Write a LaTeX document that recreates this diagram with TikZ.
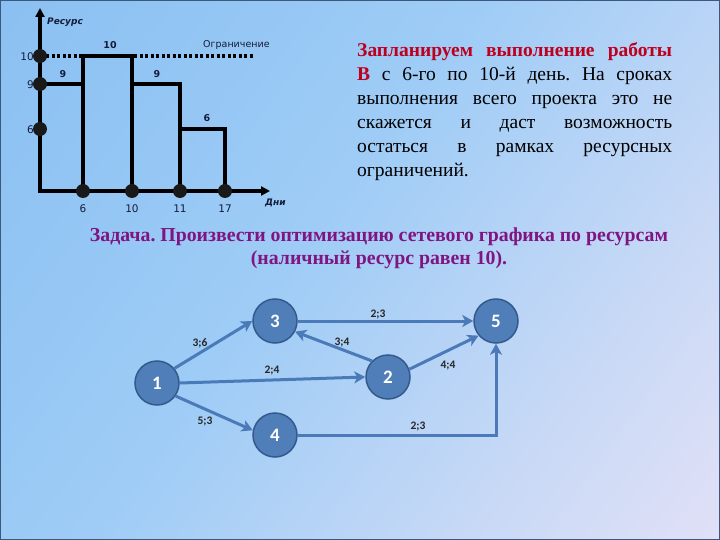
\documentclass[tikz,border=0pt]{standalone}
\usepackage{fontspec}
\setmainfont{Liberation Serif}
\newfontfamily\chartfont{DejaVu Sans}
\newfontfamily\netfont{Carlito}
\usetikzlibrary{arrows.meta}
\frenchspacing
\definecolor{bgA}{RGB}{128,186,240}
\definecolor{bgB}{RGB}{158,204,246}
\definecolor{bgC}{RGB}{210,220,246}
\definecolor{bgD}{RGB}{247,230,248}
\definecolor{navy}{RGB}{20,28,60}
\definecolor{titlered}{RGB}{190,0,30}
\definecolor{taskpurple}{RGB}{128,20,130}
\definecolor{netfill}{RGB}{79,126,185}
\definecolor{netdraw}{RGB}{52,90,140}
\definecolor{netedge}{RGB}{74,122,184}
\pgfdeclarehorizontalshading{bgshade}{100bp}{color(0bp)=(bgA); color(45bp)=(bgB); color(75bp)=(bgC); color(100bp)=(bgD)}
\newcommand{\jline}[1]{\makebox[315pt][s]{#1}}
\tikzset{
  axisline/.style={line width=3.5pt, draw=black},
  barline/.style={line width=4pt, draw=black},
  dot/.style={circle, fill=black!90, inner sep=0pt, minimum size=14pt},
  ticklbl/.style={font=\chartfont\fontsize{10.5}{12}\selectfont, text=navy, inner sep=1pt},
  barlbl/.style={font=\chartfont\bfseries\fontsize{9.5}{11}\selectfont, text=navy, inner sep=1pt},
  axislbl/.style={font=\chartfont\itshape\bfseries\fontsize{9}{11}\selectfont, text=navy, inner sep=1pt},
  netnode/.style={circle, fill=netfill, draw=netdraw, line width=1.5pt, minimum size=44pt, inner sep=0pt,
    font=\netfont\bfseries\fontsize{19}{20}\selectfont, text=white},
  netedge/.style={draw=netedge, line width=3pt, -{Stealth[length=11pt,width=12pt,inset=3pt]}},
  edgelbl/.style={font=\netfont\bfseries\fontsize{11.5}{12}\selectfont, text=black!85, inner sep=1pt},
}
\begin{document}
\begin{tikzpicture}[x=1pt,y=-1pt]
\useasboundingbox (0,0) rectangle (720,540);
\shade[shading=bgshade, shading angle=-36] (0,0) rectangle (720,540);
\draw[line width=1.2pt, draw={rgb,255:red,60;green,88;blue,125}] (0.6,0.6) rectangle (719.4,539.4);

% ---- resource chart ----
\draw[line width=3.5pt, dash pattern=on 3pt off 2.5pt, draw=black] (46,56) -- (253,56);
\draw[barline] (40,84) -- (83,84);
\draw[barline] (83,191) -- (83,56) -- (132,56) -- (132,191);
\draw[barline] (132,84) -- (180,84) -- (180,191);
\draw[barline] (180,129) -- (225,129) -- (225,191);
\draw[axisline, -{Triangle[length=9pt,width=9pt]}] (40,191) -- (40,8);
\draw[axisline, -{Triangle[length=9pt,width=9pt]}] (38,191) -- (270,191);

\node[dot] (y10) at (40,56) {};
\node[dot] (y9) at (40,84) {};
\node[dot] (y6) at (40,129) {};
\node[dot] (x6) at (83,191) {};
\node[dot] (x10) at (132,191) {};
\node[dot] (x11) at (180,191) {};
\node[dot] (x17) at (225,191) {};

\node[ticklbl, anchor=east] (l10) at (35,57) {10};
\node[ticklbl, anchor=east] (l9) at (35,85) {9};
\node[ticklbl, anchor=east] (l6) at (35,130) {6};
\node[ticklbl] (b6) at (83,209) {6};
\node[ticklbl] (b10) at (132,209) {10};
\node[ticklbl] (b11) at (180,209) {11};
\node[ticklbl] (b17) at (225,209) {17};

\node[barlbl] (v10) at (110,45) {10};
\node[barlbl] (v9a) at (63,74) {9};
\node[barlbl] (v9b) at (157,74) {9};
\node[barlbl] (v6) at (207,118) {6};
\node[ticklbl, anchor=west, font=\chartfont\fontsize{9.5}{11}\selectfont] (lim) at (202,45) {Ограничение};
\node[axislbl, anchor=west] (res) at (46,22) {Ресурс};
\node[axislbl, anchor=west] (days) at (264,203) {Дни};

% ---- right text ----
\node[anchor=north west, align=left, inner sep=0pt,
  font=\fontsize{19.5}{24}\selectfont] (para) at (357,42)
  {\jline{\textcolor{titlered}{\textbf{Запланируем выполнение работы}}}\\
   \jline{\textcolor{titlered}{\textbf{В}} с 6-го по 10-й день. На сроках}\\
   \jline{выполнения всего проекта это не}\\
   \jline{скажется и даст возможность}\\
   \jline{остаться в рамках ресурсных}\\
   ограничений.};

% ---- task ----
\node[align=center, text=taskpurple, inner sep=0pt,
  font=\bfseries\fontsize{19.8}{23}\selectfont] (task) at (379,248)
  {Задача. Произвести оптимизацию сетевого графика по ресурсам\\(наличный ресурс равен 10).};

% ---- network ----
\node[netnode] (n1) at (157,383) {1};
\node[netnode] (n2) at (388,377) {2};
\node[netnode] (n3) at (275,321) {3};
\node[netnode] (n4) at (275,435) {4};
\node[netnode] (n5) at (496,321) {5};

\draw[netedge] (n1.40) -- (n3.west);
\draw[netedge] (n3.east) -- (n5.west);
\draw[netedge] (n2.135) -- (n3.-28);
\draw[netedge] (n1.east) -- (n2.west);
\draw[netedge] (n2.20) -- (n5.-140);
\draw[netedge] (n1.-35) -- (n4.168);
\draw[netedge] (n4.east) -| (n5.south);

\node[edgelbl] (e13) at (200,343) {3;6};
\node[edgelbl] (e35) at (378,315) {2;3};
\node[edgelbl] (e23) at (342,343) {3;4};
\node[edgelbl] (e12) at (272,371) {2;4};
\node[edgelbl] (e25) at (448,366) {4;4};
\node[edgelbl] (e14) at (205,422) {5;3};
\node[edgelbl] (e45) at (418,427) {2;3};
\end{tikzpicture}
\end{document}
